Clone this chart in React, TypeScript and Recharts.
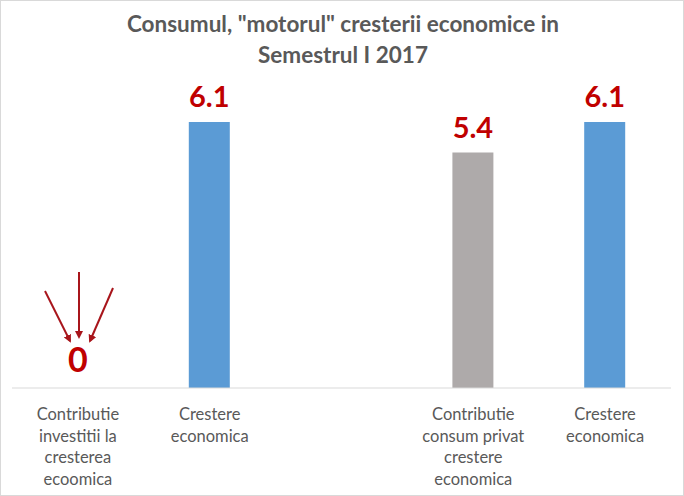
import React from 'react';
import { ComposedChart, Bar, Line, XAxis, YAxis, Cell, LabelList, Customized } from 'recharts';

const categories = [
  'Contributie\ninvestitii la\ncresterea\necoomica',
  'Crestere\neconomica',
  '',
  'Contributie\nconsum privat\ncrestere\neconomica',
  'Crestere\neconomica',
];
const values: (number | null)[] = [0, 6.1, null, 5.4, 6.1];
const barColors = ['#5B9BD5', '#5B9BD5', '#5B9BD5', '#AEAAAA', '#5B9BD5'];

// a zero has no bar to hang its label on, so it goes on an invisible line point
const data = categories.map((name, i) => ({
  name,
  value: values[i],
  zero: values[i] === 0 ? 0 : null,
}));

const FONT = 'Lato, "Open Sans", sans-serif';

const CategoryTick: React.FC<any> = ({ x, y, payload }) => {
  const lines = String(payload.value).split('\n');
  return (
    <g transform={`translate(${x},${y})`}>
      <text x={0} y={0} textAnchor="middle" fill="#595959" fontSize={16.5} fontFamily={FONT}>
        {lines.map((l, i) => (
          <tspan key={i} x={0} dy={i === 0 ? 24 : 21.7}>{l}</tspan>
        ))}
      </text>
    </g>
  );
};

const ValueLabel: React.FC<any> = ({ x, y, width, value }) => {
  if (value === null || value === undefined || value === 0) return null;
  return (
    <text x={x + width / 2} y={y - 15} textAnchor="middle" fill="#C00000" fontSize={29} fontWeight={700} fontFamily={FONT}>
      {value}
    </text>
  );
};

const ZeroLabel: React.FC<any> = ({ x, y, value }) => {
  if (value !== 0 || x == null || y == null) return null;
  return (
    <text x={x} y={y - 16} textAnchor="middle" fill="#C00000" fontSize={34} fontWeight={700} fontFamily={FONT}>
      {value}
    </text>
  );
};

// arrows pointing at the zero value
const Arrows = () => (
  <g>
    <defs>
      <marker id="ah" markerWidth="8" markerHeight="8" refX="6" refY="4" orient="auto" markerUnits="userSpaceOnUse">
        <path d="M0,0 L8,4 L0,8 z" fill="#A8151B" />
      </marker>
    </defs>
    <line x1={45} y1={291} x2={70} y2={341} stroke="#A8151B" strokeWidth={2} markerEnd="url(#ah)" />
    <line x1={79} y1={272} x2={79} y2={337} stroke="#A8151B" strokeWidth={2} markerEnd="url(#ah)" />
    <line x1={113} y1={288} x2={90} y2={341} stroke="#A8151B" strokeWidth={2} markerEnd="url(#ah)" />
  </g>
);

export default function App() {
  return (
    <div style={{ position: 'absolute', left: 0, top: 0, width: 684, height: 496, background: '#fff', border: '1px solid #D9D9D9', boxSizing: 'border-box' }}>
      <div style={{ position: 'absolute', left: 0, top: 7, width: 684, textAlign: 'center', fontFamily: FONT, fontWeight: 700, fontSize: 22.5, lineHeight: '31px', color: '#595959' }}>
        Consumul, "motorul" cresterii economice in<br />Semestrul I 2017
      </div>
      <div style={{ position: 'absolute', left: -1, top: -1 }}>
        <ComposedChart width={684} height={496} data={data} margin={{ top: 122, right: 13, left: 12, bottom: 0 }}>
          <XAxis dataKey="name" tick={<CategoryTick />} tickLine={false} axisLine={{ stroke: '#D9D9D9' }} interval={0} height={108} />
          <YAxis hide domain={[0, 6.1]} />
          <Bar dataKey="value" barSize={41} isAnimationActive={false}>
            {data.map((_d, i) => (
              <Cell key={i} fill={barColors[i]} />
            ))}
            <LabelList dataKey="value" content={<ValueLabel />} />
          </Bar>
          <Line dataKey="zero" stroke="none" dot={false} activeDot={false} isAnimationActive={false} label={<ZeroLabel />} />
          <Customized component={Arrows} />
        </ComposedChart>
      </div>
    </div>
  );
}
